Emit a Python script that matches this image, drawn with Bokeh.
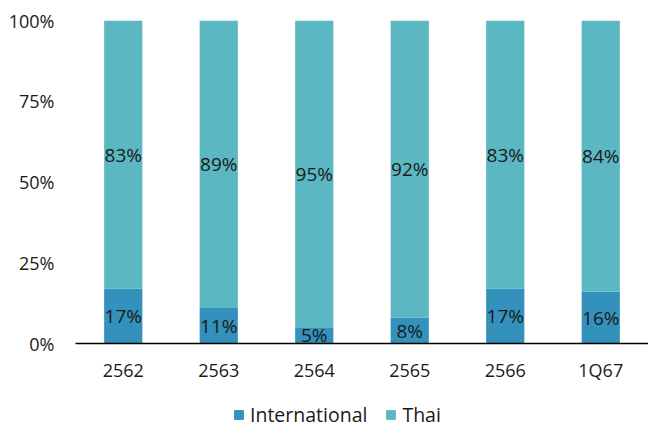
from bokeh.plotting import figure
from bokeh.layouts import column
from bokeh.models import ColumnDataSource, LabelSet, Legend, LegendItem, FixedTicker, Range1d
from bokeh.core.properties import value
from bokeh.embed import file_html
from bokeh.resources import INLINE

categories = ["2562", "2563", "2564", "2565", "2566", "1Q67"]
international = [17, 11, 5, 8, 17, 16]
thai = [83, 89, 95, 92, 83, 84]
y_ticks = [0, 25, 50, 75, 100]
series_names = ["International", "Thai"]

c_int = "#3391bb"
c_thai = "#5bb7c1"
FONT = "Open Sans"
FS = "18px"

src = ColumnDataSource(dict(
    cat=categories,
    intl=international,
    thai=thai,
    intl_mid=[v / 2 for v in international],
    thai_mid=[i + t / 2 for i, t in zip(international, thai)],
    intl_lbl=[f"{v}%" for v in international],
    thai_lbl=[f"{v}%" for v in thai],
))

p = figure(x_range=categories, width=648, height=388, output_backend="svg",
           toolbar_location=None, min_border_left=75, min_border_right=0,
           min_border_top=20, min_border_bottom=45)
p.y_range = Range1d(0, 100)
p.x_range.range_padding = 0

p.vbar_stack(["intl", "thai"], x="cat", width=0.4, source=src,
             color=[c_int, c_thai], line_color=None)

for ycol, lcol in [("intl_mid", "intl_lbl"), ("thai_mid", "thai_lbl")]:
    p.add_layout(LabelSet(x="cat", y=ycol, text=lcol, source=src,
                          text_align="center", text_baseline="middle",
                          text_font=value(FONT), text_font_size="19px",
                          text_color="#1a1a1a"))

p.yaxis.ticker = FixedTicker(ticks=y_ticks)
p.yaxis.major_label_overrides = {t: f"{t}%" for t in y_ticks}
p.yaxis.axis_line_color = None
p.yaxis.major_tick_line_color = None
p.yaxis.minor_tick_line_color = None
p.yaxis.major_label_standoff = 15
p.xaxis.major_tick_line_color = None
p.xaxis.axis_line_color = "black"
p.xaxis.axis_line_width = 1.5
p.xaxis.major_label_standoff = 8
for ax in (p.xaxis, p.yaxis):
    ax.major_label_text_font = FONT
    ax.major_label_text_font_size = FS
    ax.major_label_text_color = "#1a1a1a"

p.xgrid.grid_line_color = None
p.ygrid.grid_line_color = None
p.outline_line_color = None

# legend strip
lg = figure(width=648, height=40, output_backend="svg", toolbar_location=None,
            min_border=0, min_border_left=75, x_range=(0, 1), y_range=(0, 1))
lg.axis.visible = False
lg.grid.grid_line_color = None
lg.outline_line_color = None
dummy = [lg.rect(x=[-10], y=[-10], width=1, height=1, color=c) for c in (c_int, c_thai)]
legend = Legend(items=[LegendItem(label=n, renderers=[r]) for n, r in zip(series_names, dummy)],
                orientation="horizontal", location=(158, 0),
                label_text_font=FONT, label_text_font_size="19.5px",
                label_text_color="#1a1a1a", glyph_width=11, glyph_height=11,
                spacing=18, padding=0, margin=0, border_line_color=None,
                background_fill_alpha=0, label_standoff=6)
lg.add_layout(legend, "center")

layout = column(p, lg, spacing=0)
open("out.html", "w").write(file_html(layout, INLINE))
